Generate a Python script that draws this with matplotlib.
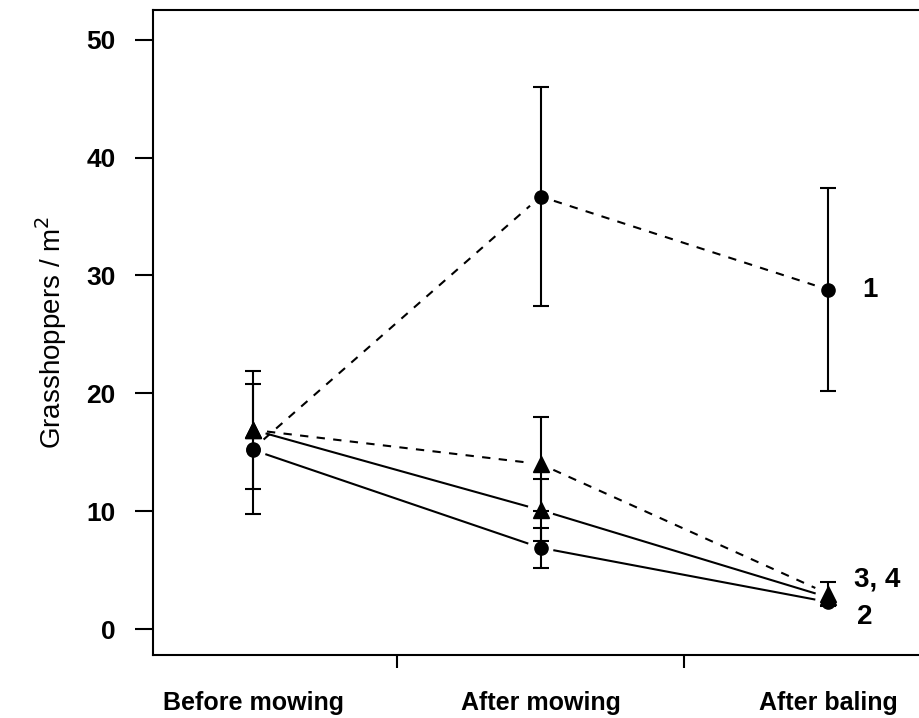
import numpy as np
import matplotlib
matplotlib.use("Agg")
import matplotlib.pyplot as plt

plt.rcParams['font.family'] = ['Liberation Sans', 'DejaVu Sans']

stages = ["Before mowing", "After mowing", "After baling"]

# treatment 1 (circles, dashed)
t1_mean = [15.3, 36.7, 28.8]
t1_err = [5.5, 9.3, 8.6]
# treatment 3 (triangles, dashed)
t3_mean = [16.9, 14.0, 3.0]
t3_err = [5.0, 4.0, 1.0]
# treatment 4 (triangles, solid)
t4_mean = [16.9, 10.1, 2.7]
t4_err = [0.0, 2.6, 0.0]
# treatment 2 (circles, solid)
t2_mean = [15.2, 6.9, 2.3]
t2_err = [0.0, 1.7, 0.0]

series = [
    ("1", t1_mean, t1_err, 'o', (0, (4, 4))),
    ("3", t3_mean, t3_err, '^', (0, (4, 4))),
    ("4", t4_mean, t4_err, '^', '-'),
    ("2", t2_mean, t2_err, 'o', '-'),
]

fig = plt.figure(figsize=(9.19, 7.18), dpi=100)
ax = fig.add_axes([0.1665, 0.0877, 0.85, 0.898])
x = np.arange(1, 4)
ax.set_xlim(0.652, 3.369)
ax.set_ylim(-2.2, 52.5)

fig.canvas.draw()
gap = 14  # pixel gap between line and marker, like R type="b"
for name, mean, err, mk, ls in series:
    pts = ax.transData.transform(np.column_stack([x, mean]))
    for i in range(len(pts) - 1):
        p0, p1 = pts[i], pts[i + 1]
        d = p1 - p0
        d = d / np.hypot(*d)
        a = ax.transData.inverted().transform(p0 + d * gap)
        b = ax.transData.inverted().transform(p1 - d * gap)
        ax.plot([a[0], b[0]], [a[1], b[1]], color='black', lw=1.5, ls=ls)
    for xi, m, e in zip(x, mean, err):
        if e > 0:
            ax.errorbar(xi, m, yerr=e, fmt='none', ecolor='black',
                        elinewidth=1.5, capsize=6, capthick=1.5)
    ax.plot(x, mean, ls='none', marker=mk, color='black',
            markersize=11 if mk == '^' else 9.5)

ax.text(3.12, 28.8, "1", fontsize=20, fontweight='bold', va='center', ha='left')
ax.text(3.09, 4.2, "3, 4", fontsize=20, fontweight='bold', va='center', ha='left')
ax.text(3.10, 1.0, "2", fontsize=20, fontweight='bold', va='center', ha='left')

ax.set_yticks([0, 10, 20, 30, 40, 50])
ax.tick_params(axis='y', direction='out', length=13, width=1.5, pad=14,
               labelsize=19)
for lab in ax.get_yticklabels():
    lab.set_fontweight('bold')
ax.set_xticks([1.5, 2.5])
ax.set_xticklabels([])
ax.tick_params(axis='x', direction='out', length=9.5, width=1.5)
for xi, s in zip(x, stages):
    ax.text(xi, -0.086, s, transform=ax.get_xaxis_transform(), ha='center',
            va='baseline', fontsize=18, fontweight='bold')

ax.set_ylabel("Grasshoppers / m$^2$", fontsize=20, labelpad=12)
for sp in ax.spines.values():
    sp.set_linewidth(1.5)

fig.savefig("out.png", dpi=100)
